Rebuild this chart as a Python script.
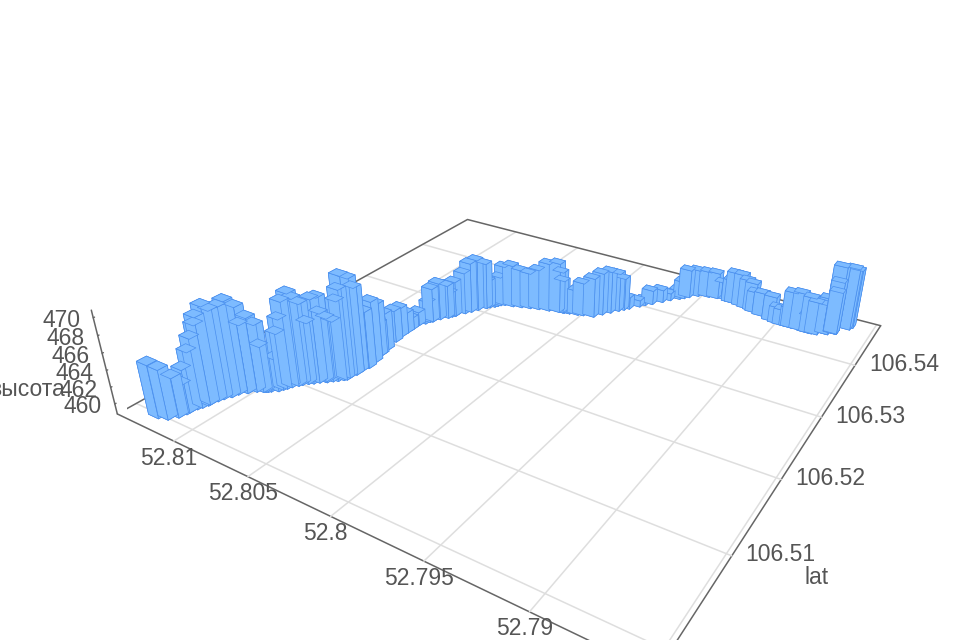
import numpy as np, matplotlib
matplotlib.use('Agg')
import matplotlib.pyplot as plt, seaborn as sns
from mpl_toolkits.mplot3d import proj3d

# lat = 106.5 + value/1e4, lon = 52.78 + value/1e4, height = 450 + value/10
lat_e4=[0,3,10,17,20,27,31,36,38,45,50,56,62,68,70,74,77,78,79,81,85,89,92,96,101,104,108,111,115,119,119,123,126,130,132,136,143,149,158,169,180,182,192,209,220,229,236,247,253,260,258,261,268,275,279,282,283,292,298,305,313,316,320,323,326,329,331,334,337,340,343,346,347,347,349,349,351,353,356,365,373,381,386,391,401,407,413,423,431,439,443,448,456,460,462,464,461,461,459,457,455,453,450,445,443,442,442,442,442,441,441,442,448,448,453,453,454,469,474]
lon_e4=[325,320,317,316,316,315,314,313,313,312,311,309,308,305,305,302,299,298,297,296,293,292,291,290,288,287,285,283,281,279,278,276,274,272,271,271,270,270,269,270,272,272,273,275,276,276,276,276,274,272,273,272,270,267,266,265,265,262,260,258,255,254,252,251,250,248,243,238,233,228,222,216,214,213,210,210,205,202,196,193,190,187,185,183,179,177,174,170,167,163,161,159,155,149,144,140,134,132,127,123,119,117,112,105,101,98,94,93,88,83,82,79,74,74,70,70,70,65,64]
elev_d=[151,147,135,123,139,156,170,183,191,200,193,195,199,191,169,177,169,143,121,110,127,156,172,191,199,192,185,162,189,190,172,165,161,184,197,211,205,191,158,164,154,129,135,128,125,114,103,105,98,95,114,131,136,131,120,111,133,142,153,155,148,124,100,109,126,140,143,138,135,141,151,153,142,131,115,109,120,131,139,143,143,138,130,103,96,94,106,104,97,99,110,125,123,122,122,110,118,129,130,126,125,115,118,120,109,108,113,134,136,110,134,129,125,134,142,155,174,167,163]
lat_ticks=[106.5,106.51,106.52,106.53,106.54]
lon_ticks=[52.785,52.79,52.795,52.8,52.805,52.81]
z_ticks=[460,462,464,466,468,470]
LAT=(106.49809,106.54899); LON=(52.78477,52.81420); Z=(458.771,470.833)

sns.set_theme(style='white')
plt.rcParams['font.family']=['Liberation Sans','DejaVu Sans']
TXT='#555555'; GRID='#dedede'; AX='#666666'; FS=16.5
lat=106.5+np.array(lat_e4)/1e4; lon=52.78+np.array(lon_e4)/1e4; elev=450+np.array(elev_d)/10

fig=plt.figure(figsize=(9.6,6.4),dpi=100,facecolor='white')
S,cx,cy=783.1364,518.0717,329.3406
ax=fig.add_axes([(cx-S/2)/960,(640-cy-S/2)/640,S/960,S/640],projection='3d',computed_zorder=False)
ax.view_init(28.6144,-147.3758)
ax.set_proj_type('persp',focal_length=0.2238)
ax.set_box_aspect((1,0.9969,0.1972))
ax.set_xlim(*LAT);ax.set_ylim(*LON);ax.set_zlim(*Z)
ax.grid(False)
ax.set_facecolor('none')
for a in (ax.xaxis,ax.yaxis,ax.zaxis):
    a.set_pane_color((1,1,1,0)); a.pane.set_edgecolor((1,1,1,0))
    a.line.set_color(AX); a.line.set_linewidth(1.1)
ax.set_xticks(lat_ticks,['']*len(lat_ticks))
ax.set_yticks(lon_ticks,['']*len(lon_ticks))
ax.set_zticks(z_ticks,['']*len(z_ticks))
ax.tick_params(axis='both',colors=AX)
for a in (ax.xaxis,ax.yaxis):
    a._axinfo['tick'].update({'inward_factor':0,'outward_factor':0})
ax.zaxis._axinfo['tick'].update({'inward_factor':0,'outward_factor':0.03,'linewidth':{True:1,False:1}})
for t in lat_ticks:
    ax.plot([t,t],LON,[Z[0]]*2,color=GRID,lw=1.1,zorder=1)
for t in lon_ticks:
    ax.plot(LAT,[t,t],[Z[0]]*2,color=GRID,lw=1.1,zorder=1)
ax.plot([LAT[0],LAT[1],LAT[1]],[LON[1],LON[1],LON[0]],[Z[0]]*3,color=AX,lw=1.1,zorder=1)
ax.bar3d(lat-.0005,lon-.00037,np.full_like(elev,Z[0]),.001,.00075,elev-Z[0],color='#7DBBFF',edgecolor='#4a8fee',linewidth=.5,shade=False,zorder=3)

ax.apply_aspect()
M=ax.get_proj()
def tick_label(x,y,z,s,dx,dy):
    px,py,_=proj3d.proj_transform(np.array([x]),np.array([y]),np.array([z]),M)
    ax.annotate(s,xy=(px[0],py[0]),xycoords='data',xytext=(dx,dy),textcoords='offset pixels',
                ha='center',va='center',fontsize=FS,color=TXT,annotation_clip=False)
for t in lat_ticks: tick_label(t,LON[0],Z[0],f'{t:g}',49,1)
for t in lon_ticks[1:]: tick_label(LAT[0],t,Z[0],f'{t:g}',-5,-17)
for t in z_ticks:   tick_label(LAT[0],LON[1],t,str(t),-32,-3)
fig.text(817/960,1-577/640,'lat',fontsize=FS,color=TXT,ha='center',va='center')
fig.text(27/960,1-390/640,'высота',fontsize=FS,color=TXT,ha='center',va='center')
fig.savefig('out.png',dpi=100)
